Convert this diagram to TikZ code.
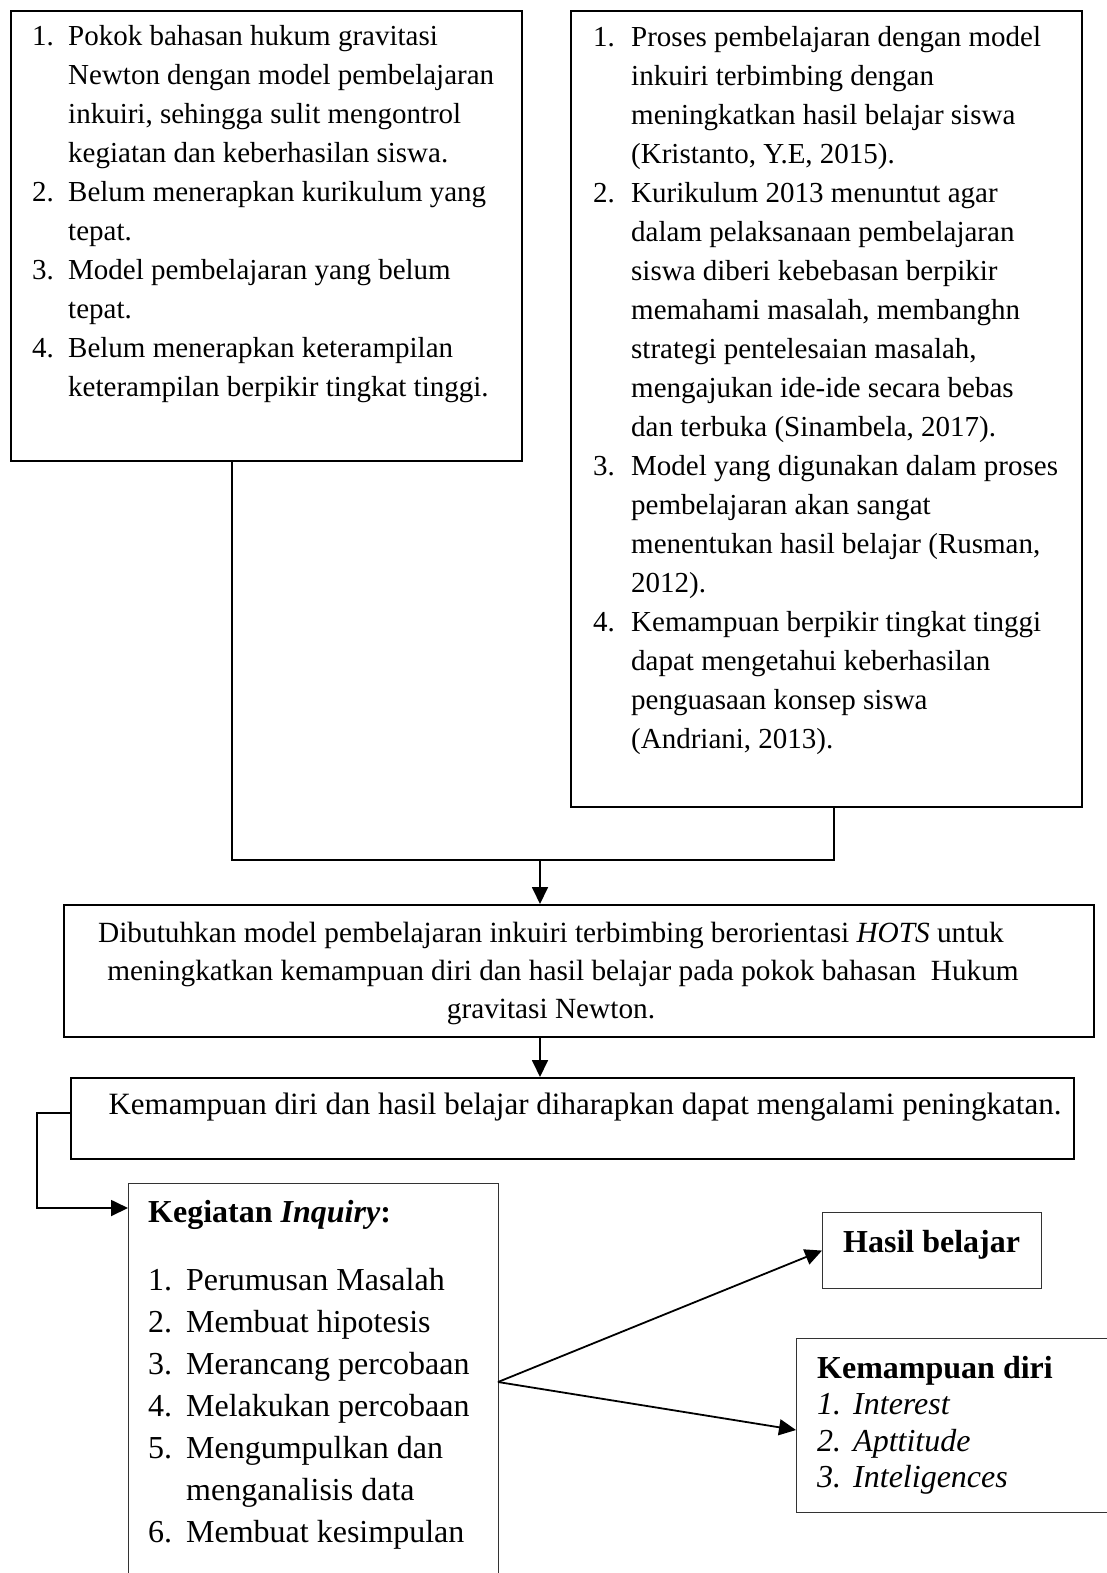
\documentclass[tikz,border=0pt]{standalone}
\usepackage{fontspec}
\setmainfont{Liberation Serif}
\usepackage{tikz}
\usetikzlibrary{arrows.meta}

\newcommand{\sizeA}{\fontsize{29}{39}\selectfont}
\newcommand{\sizeB}{\fontsize{31}{39}\selectfont}
\newcommand{\sizeC}{\fontsize{32}{42}\selectfont}
\newcommand{\sizeD}{\fontsize{32}{36.5}\selectfont}

\begin{document}
\begin{tikzpicture}[x=1pt, y=-1pt,
  box/.style={draw, line width=1.8pt, rectangle, anchor=north west, inner sep=0pt},
  thinbox/.style={draw=black!80, line width=1.1pt, rectangle, anchor=north west, inner sep=0pt},
  txt/.style={inner sep=0pt, anchor=base west},
  link/.style={line width=1.8pt},
  arr/.style={line width=1.8pt, -{Triangle[length=17pt,width=16pt]}}]

% Page
\clip (0,0) rectangle (1107,1573);

% Boxes
\node[box, minimum width=511, minimum height=450] (prob) at (10,10) {};
\node[box, minimum width=511, minimum height=796] (ref) at (570,10) {};
\node[box, minimum width=1030, minimum height=132] (need) at (63,904) {};
\node[box, minimum width=1003, minimum height=81] (expect) at (70,1077) {};
\node[thinbox, minimum width=370, minimum height=430] (inquiry) at (128,1183) {};
\node[thinbox, minimum width=219, minimum height=76] (result) at (822,1212) {};
\node[thinbox, minimum width=330, minimum height=174] (ability) at (796,1338) {};

% Problems
\node[txt] (probtext) at (32,46) {\sizeA\begin{tabular}[t]{@{}p{36pt}@{}l@{}}
1. & Pokok bahasan hukum gravitasi\\
   & Newton dengan model pembelajaran\\
   & inkuiri, sehingga sulit mengontrol\\
   & kegiatan dan keberhasilan siswa.\\
2. & Belum menerapkan kurikulum yang\\
   & tepat.\\
3. & Model pembelajaran yang belum\\
   & tepat.\\
4. & Belum menerapkan keterampilan\\
   & keterampilan berpikir tingkat tinggi.
\end{tabular}};

% References
\node[txt] (reftext) at (593,47) {\sizeA\begin{tabular}[t]{@{}p{38pt}@{}l@{}}
1. & Proses pembelajaran dengan model\\
   & inkuiri terbimbing dengan\\
   & meningkatkan hasil belajar siswa\\
   & (Kristanto, Y.E, 2015).\\
2. & Kurikulum 2013 menuntut agar\\
   & dalam pelaksanaan pembelajaran\\
   & siswa diberi kebebasan berpikir\\
   & memahami masalah, membanghn\\
   & strategi pentelesaian masalah,\\
   & mengajukan ide-ide secara bebas\\
   & dan terbuka (Sinambela, 2017).\\
3. & Model yang digunakan dalam proses\\
   & pembelajaran akan sangat\\
   & menentukan hasil belajar (Rusman,\\
   & 2012).\\
4. & Kemampuan berpikir tingkat tinggi\\
   & dapat mengetahui keberhasilan\\
   & penguasaan konsep siswa\\
   & (Andriani, 2013).
\end{tabular}};

% Need and expectation
\node[inner sep=0pt, anchor=base] (needtext) at (551,942) {\fontsize{29.3}{38}\selectfont\begin{tabular}[t]{@{}c@{}}
Dibutuhkan model pembelajaran inkuiri terbimbing berorientasi \textit{HOTS} untuk\\
\hspace*{24pt}meningkatkan kemampuan diri dan hasil belajar pada pokok bahasan\ \ Hukum\\
gravitasi Newton.
\end{tabular}};
\node[inner sep=0pt, anchor=base] (expecttext) at (585,1114) {\sizeB Kemampuan diri dan hasil belajar diharapkan dapat mengalami peningkatan.};

% Inquiry steps
\node[txt] (inquirytext) at (148,1222) {\sizeC\begin{tabular}[t]{@{}p{38pt}@{}l@{}}
\multicolumn{2}{@{}l@{}}{\textbf{Kegiatan \textit{Inquiry}:}}\\[26pt]
1. & Perumusan Masalah\\
2. & Membuat hipotesis\\
3. & Merancang percobaan\\
4. & Melakukan percobaan\\
5. & Mengumpulkan dan\\
   & menganalisis data\\
6. & Membuat kesimpulan
\end{tabular}};

% Outcomes
\node[txt] (resulttext) at (843,1252) {\fontsize{32}{36}\selectfont\textbf{Hasil belajar}};
\node[txt] (abilitytext) at (817,1378) {\sizeD\begin{tabular}[t]{@{}p{36pt}@{}l@{}}
\multicolumn{2}{@{}l@{}}{\textbf{Kemampuan diri}}\\
\textit{1.} & \textit{Interest}\\
\textit{2.} & \textit{Apttitude}\\
\textit{3.} & \textit{Inteligences}
\end{tabular}};

% Connectors
\coordinate (j1) at (232,860);
\coordinate (j2) at (834,860);
\coordinate (j3) at (540,860);
\coordinate (k1) at (37,1113);
\coordinate (k2) at (37,1208);
\coordinate (fork) at (498,1382);

\draw[link] (prob.south -| j1) -- (j1) -- (j2) -- (ref.south -| j2);
\draw[arr] (j3) -- (need.north -| j3);
\draw[arr] (need.south -| j3) -- (expect.north -| j3);
\draw[arr] (expect.west |- k1) -- (k1) -- (k2) -- (inquiry.west |- k2);
\draw[arr] (fork) -- (result.west);
\draw[arr] (fork) -- (ability.west |- 0,1430);

\end{tikzpicture}
\end{document}
